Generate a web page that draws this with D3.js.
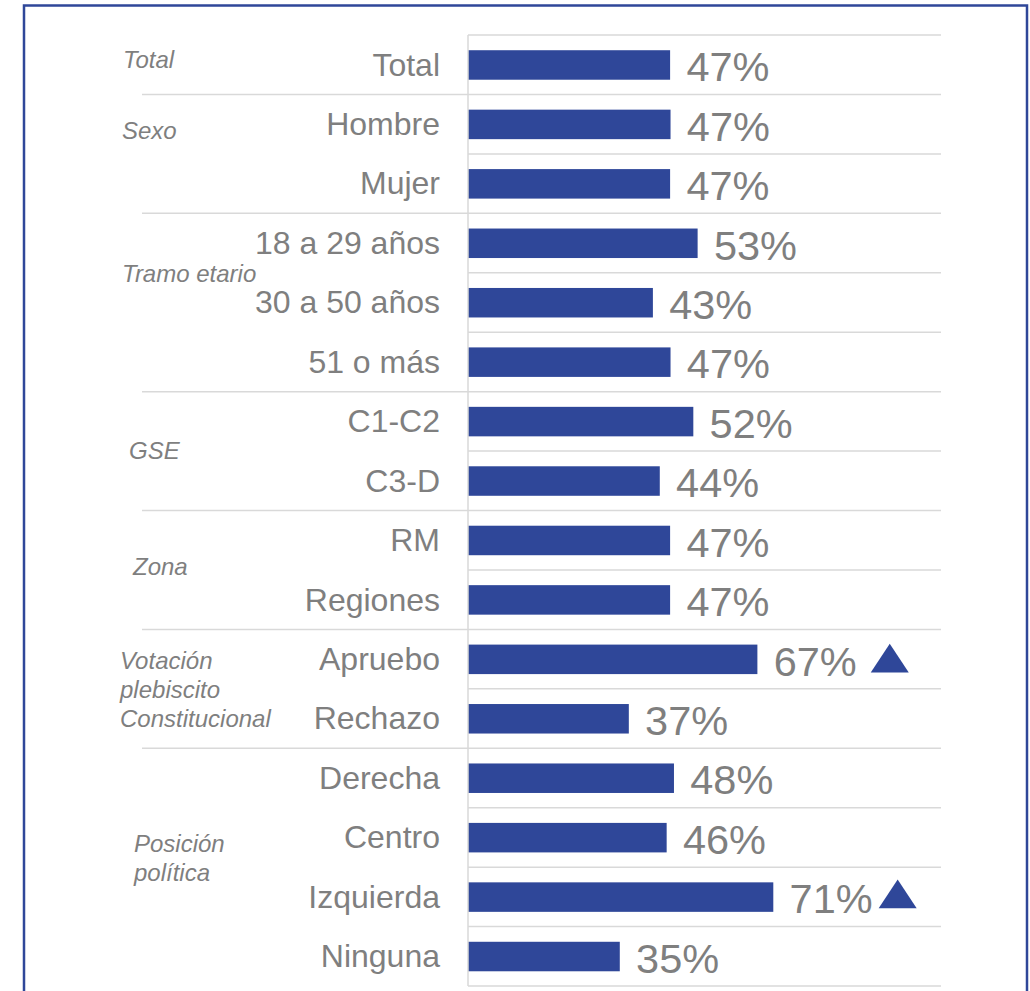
<!DOCTYPE html>
<html><head><meta charset="utf-8">
<script src="https://cdn.jsdelivr.net/npm/d3@7"></script>
<style>
html,body{margin:0;padding:0;background:#fff;}
svg{display:block;font-family:"Liberation Sans",Arial,sans-serif;}
</style></head>
<body>
<svg id="chart" width="1030" height="991"></svg>
<script>
// ---- data ----
const categories = ["Total","Hombre","Mujer","18 a 29 años","30 a 50 años","51 o más","C1-C2","C3-D","RM","Regiones","Apruebo","Rechazo","Derecha","Centro","Izquierda","Ninguna"];
const values = [0.470,0.471,0.470,0.534,0.430,0.471,0.524,0.446,0.470,0.470,0.673,0.374,0.479,0.462,0.710,0.353];
const valueLabels = ["47%","47%","47%","53%","43%","47%","52%","44%","47%","47%","67%","37%","48%","46%","71%","35%"];
const significantUp = [false,false,false,false,false,false,false,false,false,false,true,false,false,false,true,false];
const groupNames = [["Total"],["Sexo"],["Tramo etario"],["GSE"],["Zona"],["Votación","plebiscito","Constitucional"],["Posición","política"]];
const groupFirst = ["Total","Hombre","18 a 29 años","C1-C2","RM","Apruebo","Derecha"];
const groupLast = ["Total","Mujer","51 o más","C3-D","Regiones","Rechazo","Ninguna"];

// ---- layout ----
const svg = d3.select("#chart");
const gray = "#7f7f7f", gridC = "#d9d9d9", barC = "#2f4799";
const topY = 35, bottomY = 986, axisX = 468;
const groupLabelDy = [-5,-23,-29,-1,-3,1,-9];
const groupLabelX = [123,122,122,129,133,120,134];
const triGap = {"Apruebo":14, "Izquierda":6};
const triDy = {"Apruebo":-1, "Izquierda":-3};

svg.append("rect").attr("x",24).attr("y",5.5).attr("width",1003).attr("height",1010)
  .attr("fill","none").attr("stroke",barC).attr("stroke-width",2.5);

const y = d3.scaleBand().domain(categories).range([topY,bottomY]).paddingInner(0.5).paddingOuter(0.25);
const step = y.step();
const x = d3.scaleLinear().domain([0,1.1]).range([axisX,941]);

// grid lines (row boundaries)
const boundaries = d3.range(categories.length+1);
const sepIdx = new Set(groupFirst.slice(1).map(c=>categories.indexOf(c)));
svg.append("g").selectAll("line").data(boundaries).join("line")
  .attr("x1",i=>sepIdx.has(i)?142:axisX).attr("x2",x(1.1))
  .attr("y1",i=>topY+i*step).attr("y2",i=>topY+i*step)
  .attr("stroke",gridC).attr("stroke-width",1.5);

// bars
const rowC = c => topY + (categories.indexOf(c)+0.5)*step;
svg.append("g").selectAll("rect").data(categories).join("rect")
  .attr("x",x(0)).attr("y",c=>rowC(c)-14.5).attr("height",29.5)
  .attr("width",(c,i)=>x(values[i])-x(0)).attr("fill",barC);

// y axis
const yAxis = d3.axisLeft(y).tickSize(0).tickSizeOuter(0).tickPadding(28);
const ga = svg.append("g").attr("transform",`translate(${axisX},0)`).call(yAxis);
ga.select(".domain").attr("stroke",gridC).attr("stroke-width",1.5)
  .attr("d",`M0,${topY}V${bottomY}`);
ga.selectAll(".tick").attr("transform",c=>`translate(0,${rowC(c)})`);
ga.selectAll(".tick text").attr("fill",gray).attr("font-size",32)
  .attr("font-family","'Liberation Sans',Arial,sans-serif").attr("dy","0.34em");

// value labels
const vl = svg.append("g").selectAll("text").data(categories).join("text")
  .attr("x",(c,i)=>x(values[i])+16.3).attr("y",c=>rowC(c)+16.5)
  .attr("fill",gray).attr("font-size",41.5).text((c,i)=>valueLabels[i]);

// significance triangles
vl.each(function(c,i){
  if(!significantUp[i]) return;
  const end = x(values[i])+16.3+this.getComputedTextLength();
  const cx = end+triGap[c]+19, cy = rowC(c)+triDy[c];
  svg.append("path").attr("d",`M${cx-19},${cy+14.3}L${cx},${cy-14.3}L${cx+19},${cy+14.3}Z`).attr("fill",barC);
});

// group labels
groupNames.forEach((lines,g)=>{
  const a = categories.indexOf(groupFirst[g]), b = categories.indexOf(groupLast[g]);
  const center = topY + ((a+b)/2+0.5)*step + groupLabelDy[g];
  const lh = 29;
  const t = svg.append("text").attr("fill",gray).attr("font-size",24).attr("font-style","italic");
  lines.forEach((ln,k)=>{
    t.append("tspan").attr("x",groupLabelX[g])
     .attr("y",center - (lines.length-1)*lh/2 + k*lh + 8.5).text(ln);
  });
});
</script>
</body></html>
